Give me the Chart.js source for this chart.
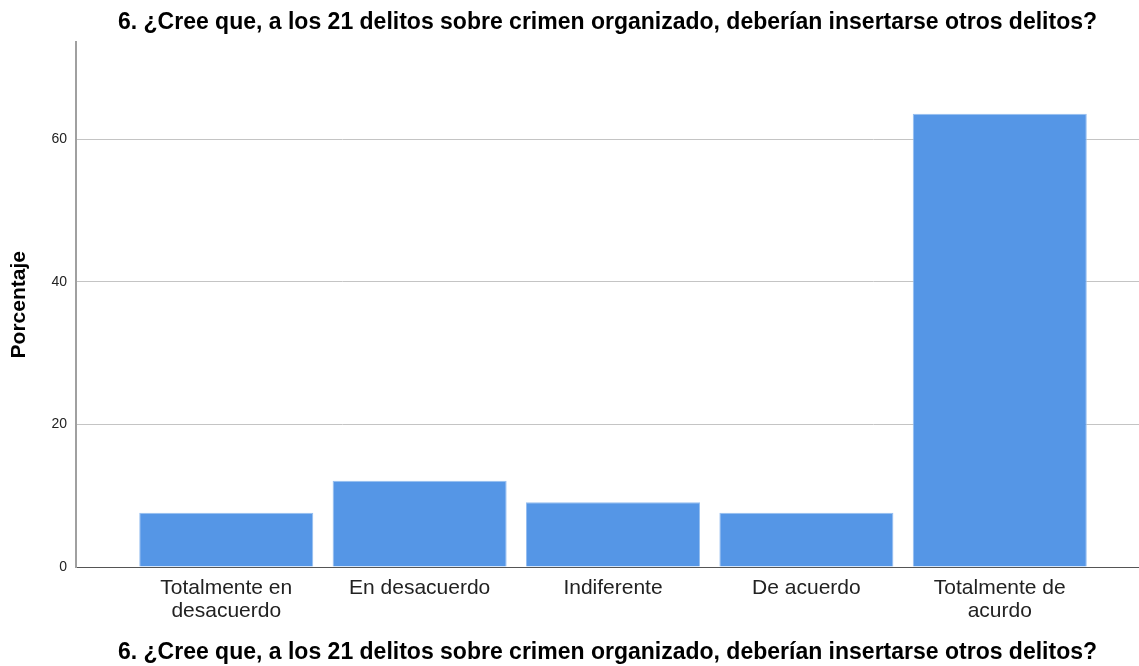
<!DOCTYPE html>
<html>
<head>
<meta charset="utf-8">
<script src="https://cdn.jsdelivr.net/npm/chart.js@4"></script>
<style>
  body { margin: 0; background: #fff; }
  #wrap { width: 1139px; height: 666px; }
</style>
</head>
<body>
<div id="wrap"><canvas id="myChart"></canvas></div>
<script>
const titleText = "6. ¿Cree que, a los 21 delitos sobre crimen organizado, deberían insertarse otros delitos?";
const categories = ["Totalmente en desacuerdo", "En desacuerdo", "Indiferente", "De acuerdo", "Totalmente de acurdo"];
const tickLabels = [["Totalmente en", "desacuerdo"], "En desacuerdo", "Indiferente", "De acuerdo", ["Totalmente de", "acurdo"]];
const porcentaje = [7.6, 12.1, 9.1, 7.6, 63.6];
const yTicks = [0, 20, 40, 60];

const font = "'Liberation Sans', Arial, sans-serif";

new Chart(document.getElementById("myChart"), {
    type: 'bar',
    data: {
        datasets: [{
            label: "Porcentaje",
            data: categories.map((c, i) => ({x: i, y: porcentaje[i]})),
            backgroundColor: 'rgb(85, 150, 230)',
            borderColor: 'rgb(150, 190, 240)',
            borderWidth: 1,
            categoryPercentage: 1,
            barPercentage: 0.9
        }]
    },
    options: {
        responsive: true,
        maintainAspectRatio: false,
        animation: false,
        layout: { padding: 0 },
        plugins: {
            legend: { display: false },
            tooltip: { enabled: false },
            title: {
                display: true,
                text: titleText,
                fullSize: false,
                color: '#000',
                font: { family: font, size: 23, weight: 'bold', lineHeight: 1.15 },
                padding: { top: 9, bottom: 7 }
            }
        },
        scales: {
            x: {
                type: 'linear',
                offset: false,
                min: -0.777,
                max: 4.72,
                afterBuildTicks: s => { s.ticks = categories.map((c, i) => ({value: i})); },
                afterFit: s => { s.height = 99; },
                grid: { display: false, drawTicks: false, tickLength: 0 },
                border: { display: true, color: '#555', width: 1 },
                ticks: {
                    color: '#222',
                    font: { family: font, size: 21, lineHeight: 1.1 },
                    padding: 10,
                    maxRotation: 0,
                    autoSkip: false,
                    callback: v => tickLabels[v]
                },
                title: {
                    display: true,
                    text: titleText,
                    color: '#000',
                    font: { family: font, size: 23, weight: 'bold', lineHeight: 1.15 },
                    padding: { top: 0, bottom: 0 }
                }
            },
            y: {
                min: 0,
                max: 73.6,
                afterBuildTicks: s => { s.ticks = yTicks.map(v => ({value: v})); },
                afterFit: s => { s.width = 76; },
                grid: {
                    color: ctx => ctx.tick && ctx.tick.value === 0 ? 'rgba(0,0,0,0)' : '#c4c4c4',
                    lineWidth: 1,
                    drawTicks: false
                },
                border: { display: true, color: '#a0a0a0', width: 2 },
                ticks: {
                    color: '#222',
                    font: { family: font, size: 14 },
                    padding: 9
                },
                title: {
                    display: true,
                    text: "Porcentaje",
                    color: '#000',
                    font: { family: font, size: 21, weight: 'bold', lineHeight: 1.2 },
                    padding: { top: 7 }
                }
            }
        }
    }
});
</script>
</body>
</html>
